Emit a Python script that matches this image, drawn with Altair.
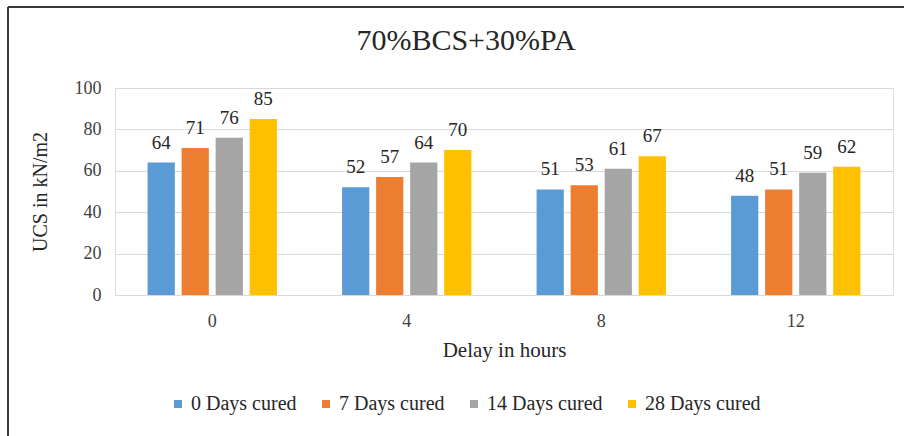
import altair as alt
import pandas as pd

delays = ["0", "4", "8", "12"]
series = ["0 Days cured", "7 Days cured", "14 Days cured", "28 Days cured"]
values = {
    "0 Days cured": [64, 52, 51, 48],
    "7 Days cured": [71, 57, 53, 51],
    "14 Days cured": [76, 64, 61, 59],
    "28 Days cured": [85, 70, 67, 62],
}
colors = ["#5B9BD5", "#ED7D31", "#A5A5A5", "#FFC000"]

rows = []
for s in series:
    for d, v in zip(delays, values[s]):
        rows.append({"Delay": d, "Series": s, "UCS": v})
df = pd.DataFrame(rows)

FONT = "Times New Roman, Liberation Serif, DejaVu Serif, serif"

base = alt.Chart(df).encode(
    x=alt.X("Delay:N", sort=delays,
            scale=alt.Scale(paddingInner=0.3, paddingOuter=0.15),
            axis=alt.Axis(title="Delay in hours", labelAngle=0, ticks=False, domain=False,
                          labelFontSize=18, labelPadding=17, titleFontSize=21,
                          titlePadding=9, labelColor="#404040", titleColor="#262626",
                          labelFont=FONT, titleFont=FONT, titleFontWeight="normal")),
    xOffset=alt.XOffset("Series:N", sort=series,
                        scale=alt.Scale(paddingInner=0.2, paddingOuter=0.1)),
    y=alt.Y("UCS:Q", scale=alt.Scale(domain=[0, 100]),
            axis=alt.Axis(title="UCS in kN/m2", values=[0, 20, 40, 60, 80, 100],
                          ticks=False, domain=False, gridColor="#D9D9D9",
                          labelFontSize=18, labelPadding=14, titleFontSize=20,
                          titlePadding=24, labelColor="#404040", titleColor="#262626",
                          labelFont=FONT, titleFont=FONT, titleFontWeight="normal")),
)

bars = base.mark_bar().encode(
    color=alt.Color("Series:N", sort=series,
                    scale=alt.Scale(domain=series, range=colors),
                    legend=alt.Legend(title=None, orient="none", direction="horizontal",
                                      legendX=53, legendY=306, columns=4,
                                      symbolType="square", symbolSize=64,
                                      symbolStrokeWidth=0, columnPadding=19,
                                      labelFontSize=20, labelFont=FONT, labelOffset=3,
                                      labelColor="#262626", labelLimit=200))
)

labels = base.mark_text(dy=-20, fontSize=19, font=FONT, color="#262626").encode(
    text="UCS:Q"
)

frame_top = alt.Chart(df).mark_rule(color="#3a3a3a", strokeWidth=2).encode(
    x=alt.value(-107), x2=alt.value(800), y=alt.value(-81)
)
frame_left = alt.Chart(df).mark_rule(color="#3a3a3a", strokeWidth=2).encode(
    x=alt.value(-107), y=alt.value(-81), y2=alt.value(348)
)

chart = alt.layer(bars, labels, frame_top, frame_left).properties(
    width=778, height=207,
    autosize=alt.AutoSizeParams(type="none"),
    padding={"left": 115, "top": 88, "right": 11, "bottom": 141},
    title=alt.Title("70%BCS+30%PA", font=FONT, fontSize=30, fontWeight="normal",
                    color="#262626", anchor="middle", frame="group", offset=0,
                    dy=50, dx=-38),
).configure_view(stroke=None).configure(background="white")

chart.save("out.html", embed_options={"renderer": "svg", "actions": False})
